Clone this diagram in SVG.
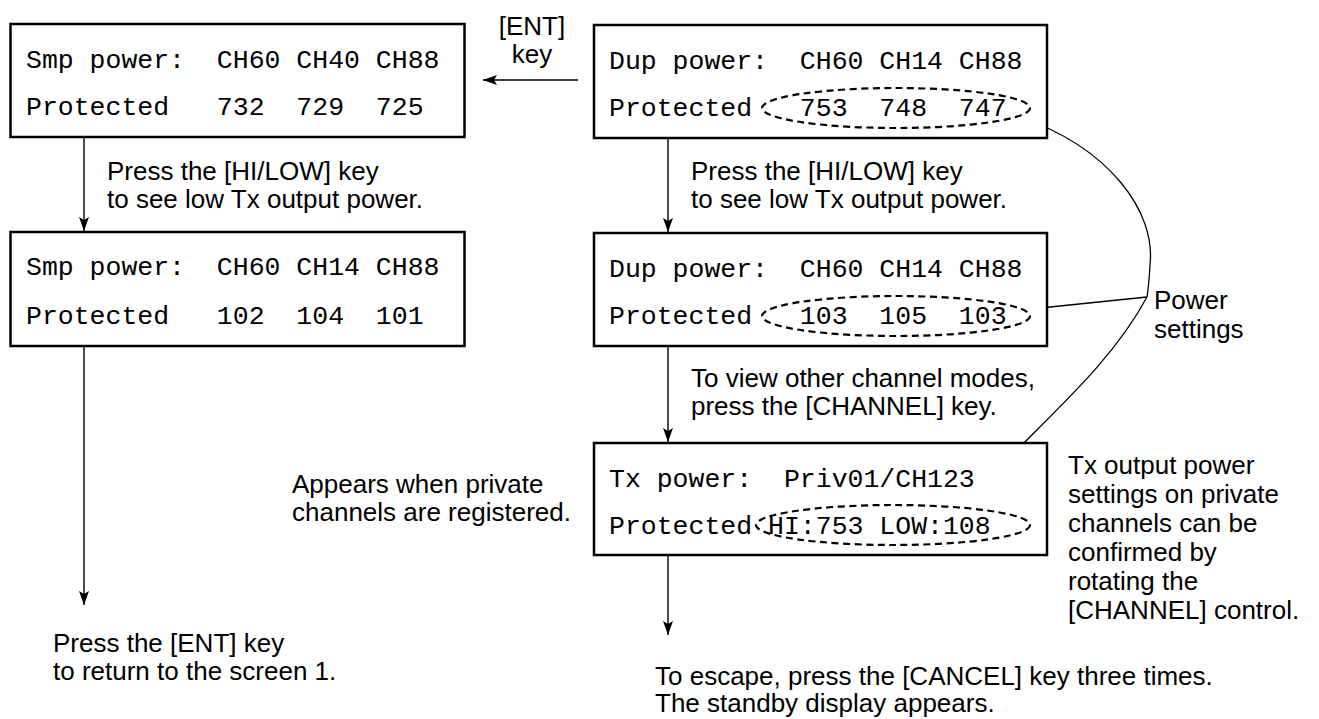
<svg xmlns="http://www.w3.org/2000/svg" width="1319" height="719" viewBox="0 0 1319 719">
<style>
.box{fill:#fff;stroke:#000;stroke-width:2.5}
.mono{font-family:"Liberation Mono","Courier New",monospace;font-size:26.5px;fill:#000;white-space:pre}
.sans{font-family:"Liberation Sans",Arial,sans-serif;font-size:26px;fill:#000}
.conn{fill:none;stroke:#000;stroke-width:1.4}
.dash{fill:none;stroke:#000;stroke-width:2.2;stroke-dasharray:7 4.5}
.lead{fill:none;stroke:#000;stroke-width:1.3}
</style>
<defs>
<marker id="ah" viewBox="0 0 14 10" refX="14" refY="5" markerWidth="14" markerHeight="10" markerUnits="userSpaceOnUse" orient="auto">
<path d="M0,0 L14,5 L0,10 L3,5 Z" fill="#000"/>
</marker>
</defs>

<g id="connectors">
<line class="conn" x1="84" y1="137" x2="84" y2="231" marker-end="url(#ah)"/>
<line class="conn" x1="84" y1="346" x2="84" y2="605" marker-end="url(#ah)"/>
<line class="conn" x1="578" y1="80" x2="483" y2="80" marker-end="url(#ah)"/>
<line class="conn" x1="668" y1="138" x2="668" y2="232" marker-end="url(#ah)"/>
<line class="conn" x1="668" y1="346" x2="668" y2="442" marker-end="url(#ah)"/>
<line class="conn" x1="668" y1="555" x2="668" y2="635" marker-end="url(#ah)"/>
<path class="lead" d="M1020,117 C1110,148 1156,212 1150,265 Q1149,284 1147,297"/>
<path class="lead" d="M1021,310 L1147,297"/>
<path class="lead" d="M1147,297 C1105,375 1030,430 963,507"/>
</g>

<g id="smp-high">
<rect class="box" x="10.5" y="24" width="454" height="113"/>
<text class="mono" x="26" y="68">Smp power:  CH60 CH40 CH88</text>
<text class="mono" x="26" y="115">Protected   732  729  725</text>
</g>

<g id="smp-low">
<rect class="box" x="10.5" y="232" width="454" height="114"/>
<text class="mono" x="26" y="275">Smp power:  CH60 CH14 CH88</text>
<text class="mono" x="26" y="324">Protected   102  104  101</text>
</g>

<g id="dup-high">
<rect class="box" x="594" y="25" width="453" height="113"/>
<text class="mono" x="609" y="69">Dup power:  CH60 CH14 CH88</text>
<text class="mono" x="609" y="116">Protected   753  748  747</text>
<ellipse class="dash" cx="896" cy="108" rx="134" ry="20"/>
</g>

<g id="dup-low">
<rect class="box" x="594" y="233" width="453" height="113"/>
<text class="mono" x="609" y="277">Dup power:  CH60 CH14 CH88</text>
<text class="mono" x="609" y="324">Protected   103  105  103</text>
<ellipse class="dash" cx="896" cy="316" rx="134" ry="20"/>
</g>

<g id="tx-private">
<rect class="box" x="594" y="443" width="453" height="112"/>
<text class="mono" x="609" y="487">Tx power:  Priv01/CH123</text>
<text class="mono" x="609" y="534">Protected HI:753 LOW:108</text>
<ellipse class="dash" cx="893" cy="525" rx="137" ry="20"/>
</g>

<g id="labels">
<text class="sans" x="532" y="35" text-anchor="middle">[ENT]</text>
<text class="sans" x="532" y="63" text-anchor="middle">key</text>
<text class="sans" x="107" y="180">Press the [HI/LOW] key</text>
<text class="sans" x="107" y="208">to see low Tx output power.</text>
<text class="sans" x="691" y="180">Press the [HI/LOW] key</text>
<text class="sans" x="691" y="208">to see low Tx output power.</text>
<text class="sans" x="691" y="387">To view other channel modes,</text>
<text class="sans" x="691" y="415">press the [CHANNEL] key.</text>
<text class="sans" x="292" y="493">Appears when private</text>
<text class="sans" x="292" y="521">channels are registered.</text>
<text class="sans" x="1154" y="309">Power</text>
<text class="sans" x="1154" y="338">settings</text>
<text class="sans" x="1068" y="474">Tx output power</text>
<text class="sans" x="1068" y="503">settings on private</text>
<text class="sans" x="1068" y="532">channels can be</text>
<text class="sans" x="1068" y="561">confirmed by</text>
<text class="sans" x="1068" y="590">rotating the</text>
<text class="sans" x="1068" y="619">[CHANNEL] control.</text>
<text class="sans" x="53" y="652">Press the [ENT] key</text>
<text class="sans" x="53" y="680">to return to the screen 1.</text>
<text class="sans" x="655" y="685">To escape, press the [CANCEL] key three times.</text>
<text class="sans" x="655" y="712">The standby display appears.</text>
</g>
</svg>
